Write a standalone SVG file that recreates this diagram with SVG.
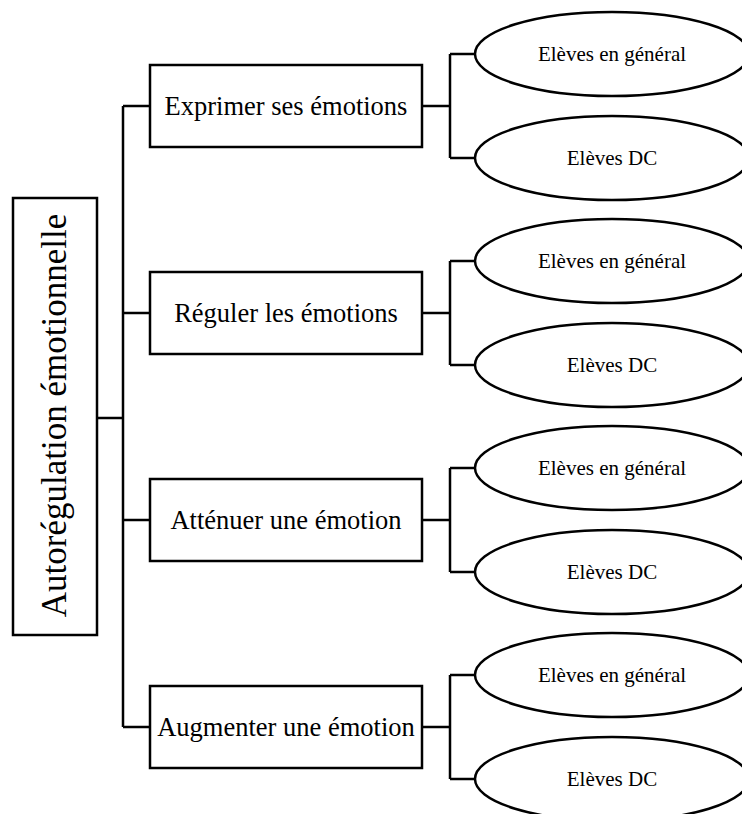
<svg xmlns="http://www.w3.org/2000/svg" width="742" height="814" viewBox="0 0 742 814">
<style>
.box{fill:#fff;stroke:#000;stroke-width:2.5}
.ell{fill:#fff;stroke:#000;stroke-width:2.5}
.ln{fill:none;stroke:#000;stroke-width:2.5}
.t{font-family:"Liberation Serif","Times New Roman",serif;fill:#000;text-anchor:middle}
.bt{font-size:26.5px}
.et{font-size:21px}
.mt{font-size:35px}
</style>
<rect width="742" height="814" fill="#fff"/>
<g id="connectors">
<path class="ln" d="M97,418 H123 M123,106 V727 M123,106 H150 M123,313 H150 M123,520 H150 M123,727 H150"/>
<path class="ln" d="M422,106 H450 M450,54 V158 M450,54 H475 M450,158 H475"/>
<path class="ln" d="M422,313 H450 M450,261 V365 M450,261 H475 M450,365 H475"/>
<path class="ln" d="M422,520 H450 M450,468 V572 M450,468 H475 M450,572 H475"/>
<path class="ln" d="M422,727 H450 M450,675 V779 M450,675 H475 M450,779 H475"/>
</g>
<g id="root">
<rect class="box" x="13" y="198" width="84" height="437"/>
<text class="t mt" transform="translate(66,415.5) rotate(-90)">Autorégulation émotionnelle</text>
</g>
<g id="b1">
<rect class="box" x="150" y="65" width="272" height="82"/>
<text class="t bt" x="286" y="115">Exprimer ses émotions</text>
</g>
<g id="b2">
<rect class="box" x="150" y="272" width="272" height="82"/>
<text class="t bt" x="286" y="322">Réguler les émotions</text>
</g>
<g id="b3">
<rect class="box" x="150" y="479" width="272" height="82"/>
<text class="t bt" x="286" y="529">Atténuer une émotion</text>
</g>
<g id="b4">
<rect class="box" x="150" y="686" width="272" height="82"/>
<text class="t bt" x="286" y="736">Augmenter une émotion</text>
</g>
<g id="e1a"><ellipse class="ell" cx="612" cy="54" rx="137" ry="42"/><text class="t et" x="612" y="61">Elèves en général</text></g>
<g id="e1b"><ellipse class="ell" cx="612" cy="158" rx="137" ry="42"/><text class="t et" x="612" y="165">Elèves DC</text></g>
<g id="e2a"><ellipse class="ell" cx="612" cy="261" rx="137" ry="42"/><text class="t et" x="612" y="268">Elèves en général</text></g>
<g id="e2b"><ellipse class="ell" cx="612" cy="365" rx="137" ry="42"/><text class="t et" x="612" y="372">Elèves DC</text></g>
<g id="e3a"><ellipse class="ell" cx="612" cy="468" rx="137" ry="42"/><text class="t et" x="612" y="475">Elèves en général</text></g>
<g id="e3b"><ellipse class="ell" cx="612" cy="572" rx="137" ry="42"/><text class="t et" x="612" y="579">Elèves DC</text></g>
<g id="e4a"><ellipse class="ell" cx="612" cy="675" rx="137" ry="42"/><text class="t et" x="612" y="682">Elèves en général</text></g>
<g id="e4b"><ellipse class="ell" cx="612" cy="779" rx="137" ry="42"/><text class="t et" x="612" y="786">Elèves DC</text></g>
</svg>
